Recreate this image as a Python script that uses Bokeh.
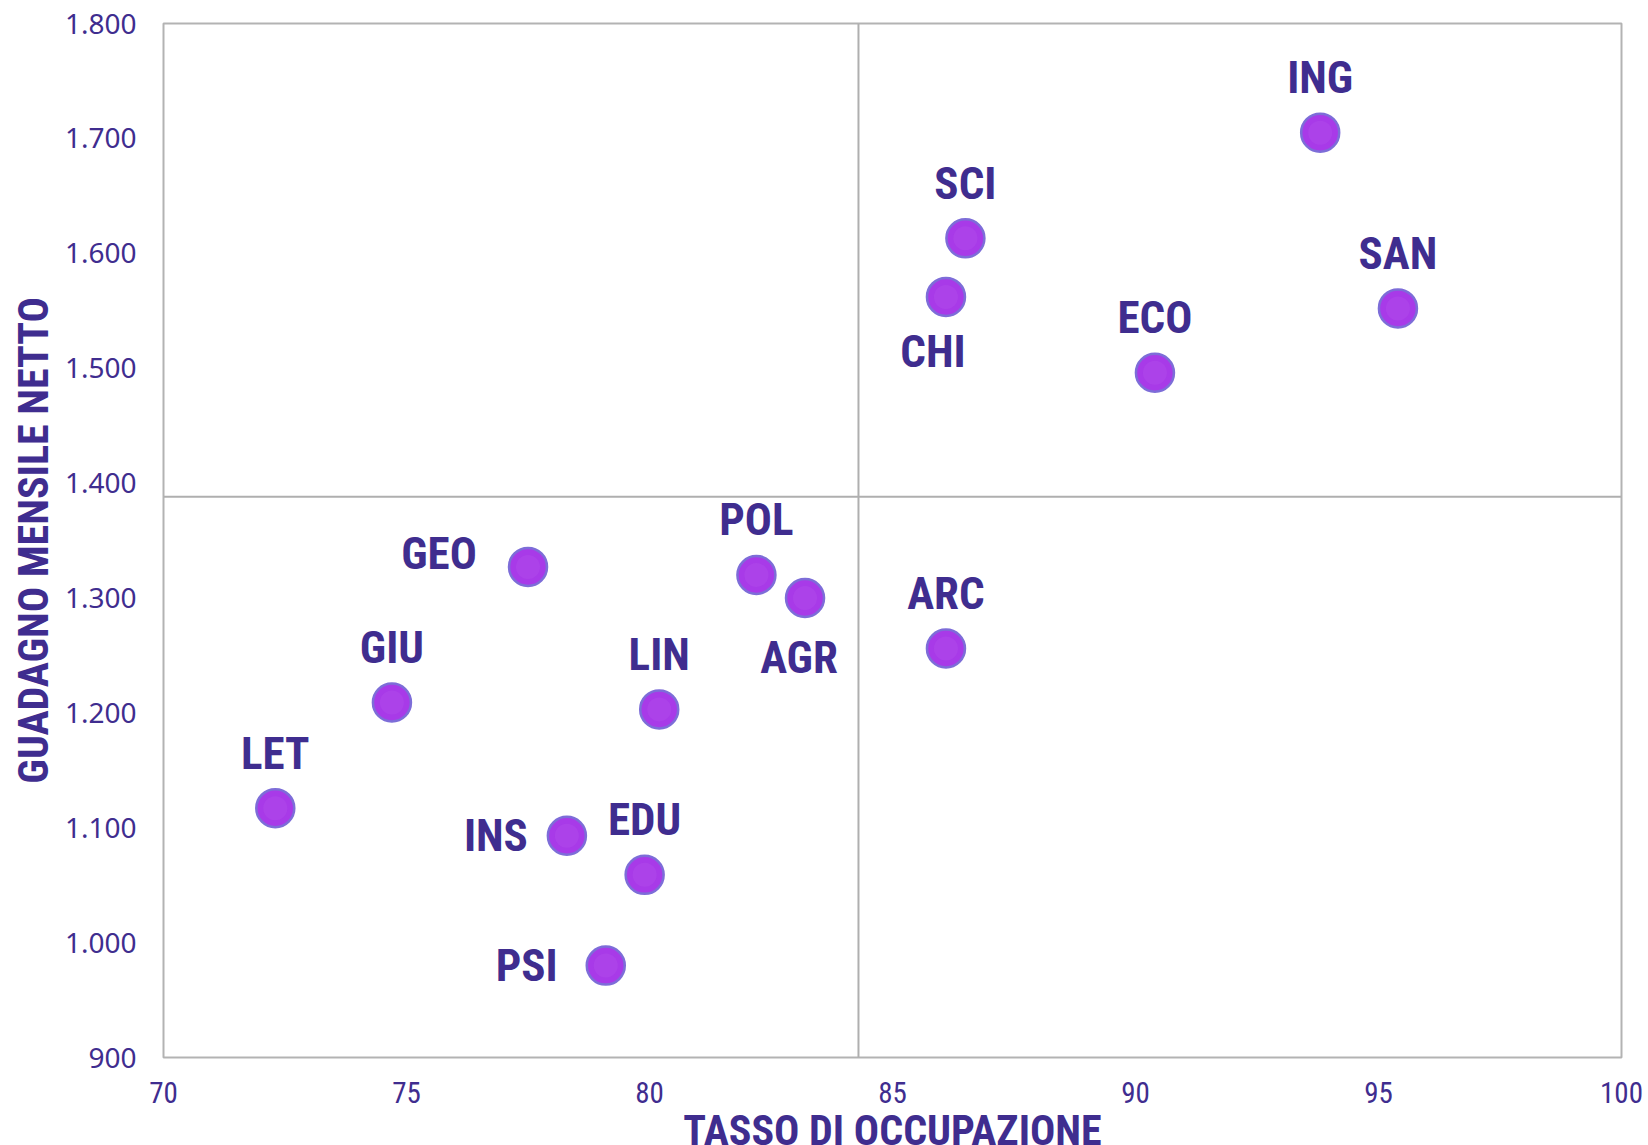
import subprocess
from bokeh.plotting import figure
from bokeh.models import ColumnDataSource, Span, FixedTicker, LabelSet
from bokeh.embed import file_html
from bokeh.resources import INLINE
from bokeh.core.properties import value

# ---- data ----
categories = ["ING", "SCI", "CHI", "SAN", "ECO", "GEO", "POL", "AGR", "ARC",
              "GIU", "LIN", "LET", "INS", "EDU", "PSI"]
tasso = [93.8, 86.5, 86.1, 95.4, 90.4, 77.5, 82.2, 83.2, 86.1,
         74.7, 80.2, 72.3, 78.3, 79.9, 79.1]
guadagno = [1705, 1613, 1562, 1552, 1496, 1327, 1320, 1300, 1256,
            1209, 1203, 1117, 1093, 1059, 980]
x_ticks = [70, 75, 80, 85, 90, 95, 100]
y_ticks = [900, 1000, 1100, 1200, 1300, 1400, 1500, 1600, 1700, 1800]
y_tick_labels = ["900", "1.000", "1.100", "1.200", "1.300", "1.400",
                 "1.500", "1.600", "1.700", "1.800"]
media_tasso = 84.3
media_guadagno = 1388

# label placement (screen px, relative to point centre; +y = up)
label_dx = {"CHI": -13, "GEO": -89, "AGR": -6, "INS": -71, "PSI": -79}
label_dy = {"CHI": -55, "GEO": 13, "AGR": -60, "INS": 0, "PSI": 0}

TXT = "#3F2D8F"

# pick a condensed sans font if one is installed
try:
    fams = subprocess.run(["fc-list", ":", "family"], capture_output=True,
                          text=True, timeout=10).stdout
except Exception:
    fams = ""
famset = set()
for line in fams.splitlines():
    for f in line.split(","):
        famset.add(f.strip())
NARROW, LBL_SIZE, XT_SIZE, TITLE_SIZE = "Roboto", "40px", "26px", "38px"
for cand in ["Liberation Sans Narrow", "Arial Narrow", "Roboto Condensed",
             "DejaVu Sans Condensed", "Noto Sans Condensed",
             "Open Sans Condensed"]:
    if cand in famset:
        NARROW = cand
        if cand.startswith("DejaVu"):
            LBL_SIZE, XT_SIZE, TITLE_SIZE = "40px", "26px", "37px"
        elif cand.startswith("Noto") or cand.startswith("Open"):
            LBL_SIZE, XT_SIZE, TITLE_SIZE = "43px", "28px", "40px"
        else:
            LBL_SIZE, XT_SIZE, TITLE_SIZE = "45px", "29px", "42px"
        break

src = ColumnDataSource(dict(
    x=tasso, y=guadagno, name=categories,
    dx=[label_dx.get(c, 0) for c in categories],
    dy=[label_dy.get(c, 55) for c in categories],
))

p = figure(frame_width=1458, frame_height=1034,
           x_range=(70, 100), y_range=(900, 1800),
           output_backend="svg", toolbar_location=None,
           min_border_left=163, min_border_right=27,
           min_border_top=23, min_border_bottom=88)
p.background_fill_color = "white"
p.border_fill_color = "white"
p.outline_line_color = "#B3B3B3"
p.outline_line_width = 2
p.xgrid.visible = False
p.ygrid.visible = False

for ax in (p.xaxis[0], p.yaxis[0]):
    ax.axis_line_color = None
    ax.major_tick_line_color = None
    ax.minor_tick_line_color = None
    ax.major_tick_out = 0
    ax.major_tick_in = 0
    ax.minor_tick_out = 0
    ax.minor_tick_in = 0
    ax.major_label_text_color = TXT
    ax.axis_label_text_color = TXT
    ax.axis_label_text_font = NARROW
    ax.axis_label_text_font_style = "bold"
    ax.axis_label_text_font_size = TITLE_SIZE

p.xaxis.ticker = FixedTicker(ticks=x_ticks)
p.xaxis.major_label_text_font = NARROW
p.xaxis.major_label_text_font_size = XT_SIZE
p.xaxis.major_label_standoff = 24
p.xaxis.axis_label = "TASSO DI OCCUPAZIONE"
p.xaxis.axis_label_standoff = 0

p.yaxis.ticker = FixedTicker(ticks=y_ticks)
p.yaxis.major_label_overrides = {t: l for t, l in zip(y_ticks, y_tick_labels)}
p.yaxis.major_label_text_font = "Noto Sans"
p.yaxis.major_label_text_font_size = "28px"
p.yaxis.major_label_standoff = 27
p.yaxis.axis_label = "GUADAGNO MENSILE NETTO"
p.yaxis.axis_label_standoff = 4

p.add_layout(Span(location=media_tasso, dimension="height",
                  line_color="#AFAFAF", line_width=2))
p.add_layout(Span(location=media_guadagno, dimension="width",
                  line_color="#AFAFAF", line_width=2))

p.scatter("x", "y", source=src, size=38, fill_color="#A83AE8",
          line_color="#7D6DD8", line_width=2.5)
p.scatter("x", "y", source=src, size=24, fill_color="#B556EC",
          fill_alpha=0.3, line_color=None)

labels = LabelSet(x="x", y="y", text="name", source=src,
                  x_offset="dx", y_offset="dy",
                  text_align="center", text_baseline="middle",
                  text_font=value(NARROW), text_font_style="bold",
                  text_font_size=LBL_SIZE, text_color=TXT)
p.add_layout(labels)

open("out.html", "w").write(file_html(p, INLINE))
